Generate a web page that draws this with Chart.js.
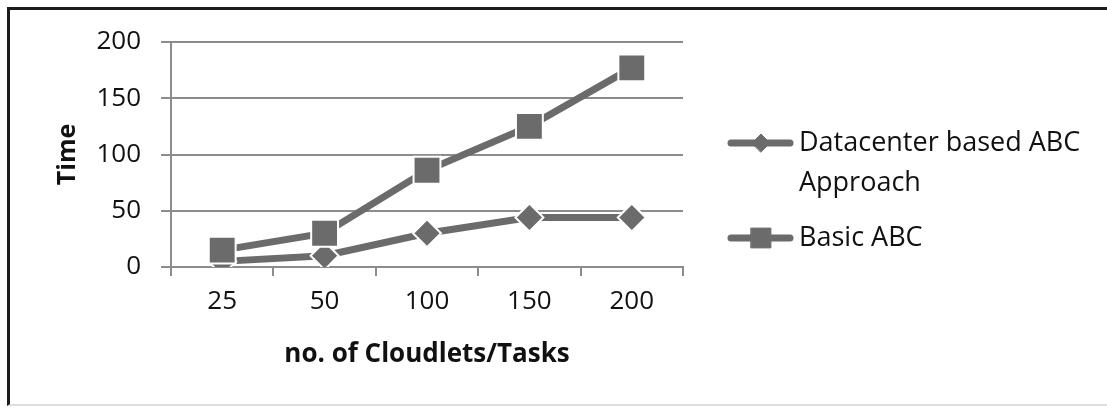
<!DOCTYPE html>
<html>
<head>
<meta charset="utf-8">
<script src="https://cdn.jsdelivr.net/npm/chart.js@4.4.1/dist/chart.umd.min.js"></script>
<style>
  html, body { margin: 0; padding: 0; background: #fff; }
  #wrap { position: relative; width: 1107px; height: 410px; overflow: hidden; }
  #frame { position: absolute; left: 7px; top: 7px; width: 1110px; height: 399px;
           border-left: 3px solid #1c1c1c; border-top: 3px solid #1c1c1c; border-bottom: 2px solid #dedede; box-sizing: border-box; }
  #c { position: absolute; left: 0; top: 0; }
</style>
</head>
<body>
<div id="wrap">
  <div id="frame"></div>
  <canvas id="c" width="1107" height="410"></canvas>
</div>
<script>
const categories = ['25', '50', '100', '150', '200'];
const datacenterABC = [5, 10, 30, 44, 44];
const basicABC = [15, 30, 86, 125, 177];
const yTicks = [0, 50, 100, 150, 200];
const seriesNames = [['Datacenter based ABC', 'Approach'], ['Basic ABC']];

const LINE = '#6b6b6b';
const GRID = '#8c8c8c';
const TEXT = '#111111';
const FONT = "'Open Sans', 'Noto Sans', sans-serif";

const legendPlugin = {
  id: 'sideLegend',
  afterDraw(chart) {
    const ctx = chart.ctx;
    const items = [
      { ds: chart.data.datasets[0], y: 143, lines: seriesNames[0], r: 9 },
      { ds: chart.data.datasets[1], y: 238, lines: seriesNames[1], r: 14 }
    ];
    ctx.save();
    items.forEach(it => {
      ctx.strokeStyle = it.ds.borderColor;
      ctx.lineWidth = 7;
      ctx.lineCap = 'round';
      ctx.beginPath();
      ctx.moveTo(731, it.y);
      ctx.lineTo(790, it.y);
      ctx.stroke();
      ctx.fillStyle = it.ds.pointBackgroundColor;
      ctx.strokeStyle = it.ds.pointBackgroundColor;
      ctx.lineWidth = 1;
      Chart.helpers.drawPoint(ctx, { pointStyle: it.ds.pointStyle, rotation: 0, radius: it.r, borderWidth: 1 }, 761, it.y);
      ctx.fillStyle = TEXT;
      ctx.font = '27px ' + FONT;
      ctx.textAlign = 'left';
      ctx.textBaseline = 'middle';
      it.lines.forEach((t, i) => ctx.fillText(t, 799, it.y + i * 40));
    });
    ctx.restore();
  }
};

new Chart(document.getElementById('c'), {
  type: 'line',
  data: {
    labels: categories,
    datasets: [
      {
        label: seriesNames[0].join(' '),
        data: datacenterABC,
        borderColor: LINE, backgroundColor: LINE,
        pointBackgroundColor: LINE, pointBorderColor: '#ffffff',
        borderWidth: 7, tension: 0,
        pointStyle: 'rectRot', pointRadius: 14, pointHoverRadius: 14, pointBorderWidth: 2,
        order: 1
      },
      {
        label: seriesNames[1].join(' '),
        data: basicABC,
        borderColor: LINE, backgroundColor: LINE,
        pointBackgroundColor: LINE, pointBorderColor: '#ffffff',
        borderWidth: 7, tension: 0,
        pointStyle: 'rect', pointRadius: 19, pointHoverRadius: 19, pointBorderWidth: 2,
        order: 0
      }
    ]
  },
  options: {
    responsive: false,
    animation: false,
    events: [],
    layout: { padding: { left: 0, top: 42, right: 424, bottom: 0 } },
    plugins: { legend: { display: false }, tooltip: { enabled: false } },
    scales: {
      x: {
        offset: true,
        grid: { display: true, drawOnChartArea: false, drawTicks: true, tickLength: 9, offset: true, color: GRID, lineWidth: 2 },
        border: { display: true, color: GRID, width: 2 },
        ticks: { color: TEXT, font: { family: FONT, size: 26 }, padding: 10, maxRotation: 0 },
        title: { display: true, text: 'no. of Cloudlets/Tasks', color: TEXT, font: { family: FONT, size: 26, weight: 'bold' }, padding: { top: 0, bottom: 40 } },
        afterFit(scale) { scale.height = 143; }
      },
      y: {
        min: 0, max: 200,
        afterBuildTicks(scale) { scale.ticks = yTicks.map(v => ({ value: v })); },
        grid: { color: GRID, lineWidth: 2, drawTicks: true, tickLength: 10 },
        border: { display: true, color: GRID, width: 2 },
        ticks: { color: TEXT, font: { family: FONT, size: 26 }, padding: 20 },
        title: { display: true, text: 'Time', color: TEXT, font: { family: FONT, size: 25, weight: 'bold' }, padding: { top: 53, bottom: 0 } },
        afterFit(scale) { scale.width = 171; }
      }
    }
  },
  plugins: [legendPlugin]
});
</script>
</body>
</html>
